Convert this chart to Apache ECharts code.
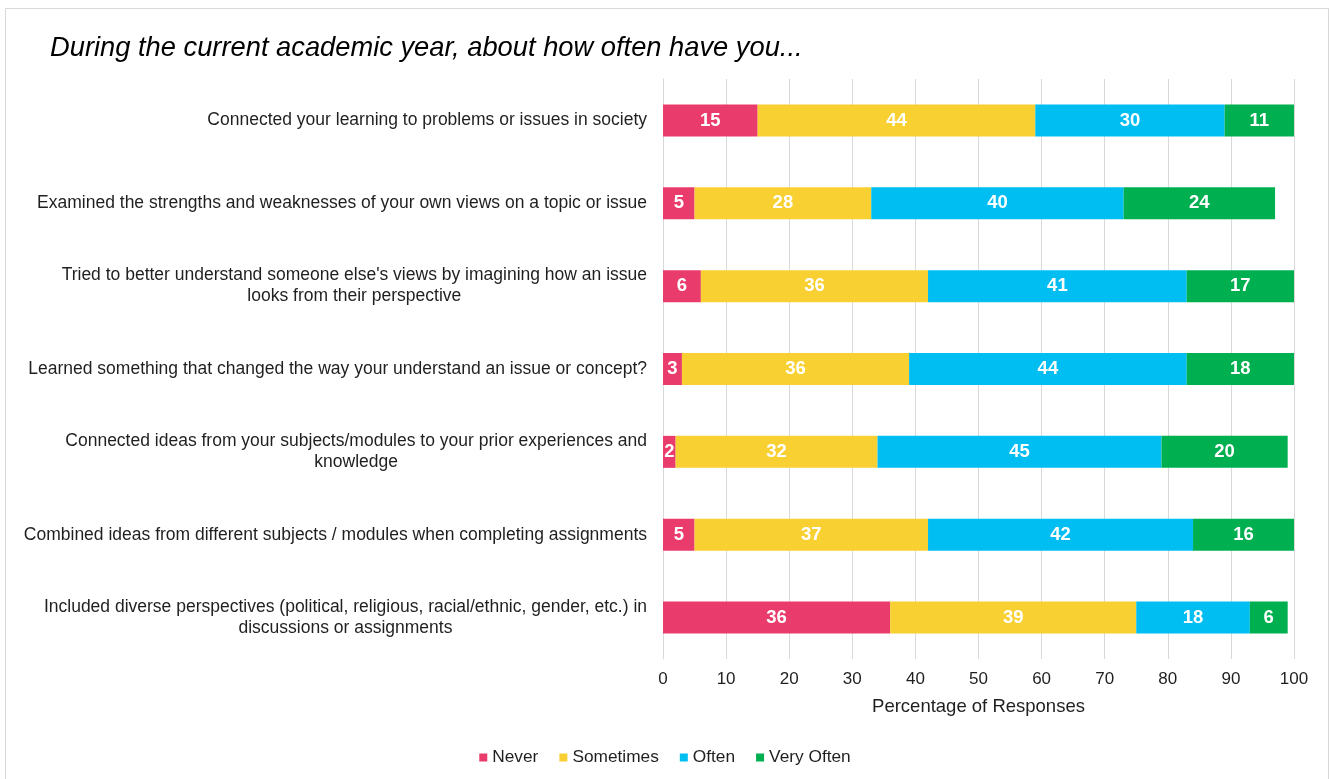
<!DOCTYPE html>
<html>
<head>
<meta charset="utf-8">
<script src="https://cdn.jsdelivr.net/npm/echarts@6/dist/echarts.min.js"></script>
<style>
  html, body { margin: 0; padding: 0; background: #fff; }
  #chart { width: 1330px; height: 779px; }
</style>
</head>
<body>
<div id="chart"></div>
<script>
// Survey items (top to bottom); "\n" marks where long items wrap
const categories = [
  'Connected your learning to problems or issues in society',
  'Examined the strengths and weaknesses of your own views on a topic or issue',
  "Tried to better understand someone else's views by imagining how an issue\nlooks from their perspective",
  'Learned something that changed the way your understand an issue or concept?',
  'Connected ideas from your subjects/modules to your prior experiences and\nknowledge',
  'Combined ideas from different subjects / modules when completing assignments',
  'Included diverse perspectives (political, religious, racial/ethnic, gender, etc.) in\ndiscussions or assignments'
];

// Percentage of responses per answer option
const never     = [15, 5, 6, 3, 2, 5, 36];
const sometimes = [44, 28, 36, 36, 32, 37, 39];
const often     = [30, 40, 41, 44, 45, 42, 18];
const veryOften = [11, 24, 17, 18, 20, 16, 6];

const xTicks = { min: 0, max: 100, interval: 10 };

const seriesDefs = [
  { name: 'Never', data: never, color: '#E93C6C' },
  { name: 'Sometimes', data: sometimes, color: '#F9D032' },
  { name: 'Often', data: often, color: '#00BEF2' },
  { name: 'Very Often', data: veryOften, color: '#00AF50' }
];

const font = 'Liberation Sans, Arial, sans-serif';
const textColor = '#1f1f1f';

const chart = echarts.init(document.getElementById('chart'), null, { renderer: 'canvas' });

chart.setOption({
  animation: false,
  backgroundColor: '#ffffff',
  textStyle: { fontFamily: font },
  graphic: [
    {
      type: 'rect',
      shape: { x: 5.5, y: 8.5, width: 1323, height: 800 },
      style: { fill: 'none', stroke: '#d9d9d9', lineWidth: 1 },
      silent: true
    },
    {
      type: 'text',
      left: 50,
      top: 35,
      style: {
        text: 'During the current academic year, about how often have you...',
        font: 'italic 27.3px ' + font,
        fill: '#000000'
      }
    }
  ],
  legend: {
    bottom: 8,
    left: 'center',
    itemWidth: 8,
    itemHeight: 8,
    itemGap: 21,
    icon: 'rect',
    textStyle: { fontSize: 17.3, color: textColor, fontFamily: font },
    data: seriesDefs.map(s => s.name)
  },
  grid: { left: 663, right: 36, top: 79, bottom: 120, containLabel: false },
  xAxis: {
    type: 'value',
    min: xTicks.min,
    max: xTicks.max,
    interval: xTicks.interval,
    name: 'Percentage of Responses',
    nameLocation: 'middle',
    nameGap: 38,
    nameTextStyle: { fontSize: 18.5, color: textColor, fontFamily: font },
    axisLine: { show: false },
    axisTick: { show: false },
    axisLabel: { fontSize: 17, color: textColor, margin: 12, fontFamily: font },
    splitLine: { show: true, lineStyle: { color: '#d9d9d9', width: 1 } }
  },
  yAxis: {
    type: 'category',
    inverse: true,
    data: categories,
    axisLine: { show: true, lineStyle: { color: '#d9d9d9', width: 1 } },
    axisTick: { show: false },
    axisLabel: {
      margin: 16,
      align: 'right',
      fontSize: 17.5,
      lineHeight: 21,
      color: textColor,
      fontFamily: font,
      formatter: v => v.split('\n').map(line => '{c|' + line + '}').join('\n'),
      rich: {
        c: { align: 'center', fontSize: 17.5, lineHeight: 21, color: textColor, fontFamily: font }
      }
    }
  },
  series: seriesDefs.map(s => ({
    name: s.name,
    type: 'bar',
    stack: 'total',
    barWidth: 32,
    data: s.data,
    itemStyle: { color: s.color },
    label: {
      show: true,
      position: 'inside',
      color: '#ffffff',
      fontSize: 18.5,
      fontWeight: 'bold',
      fontFamily: font
    }
  }))
});
</script>
</body>
</html>
